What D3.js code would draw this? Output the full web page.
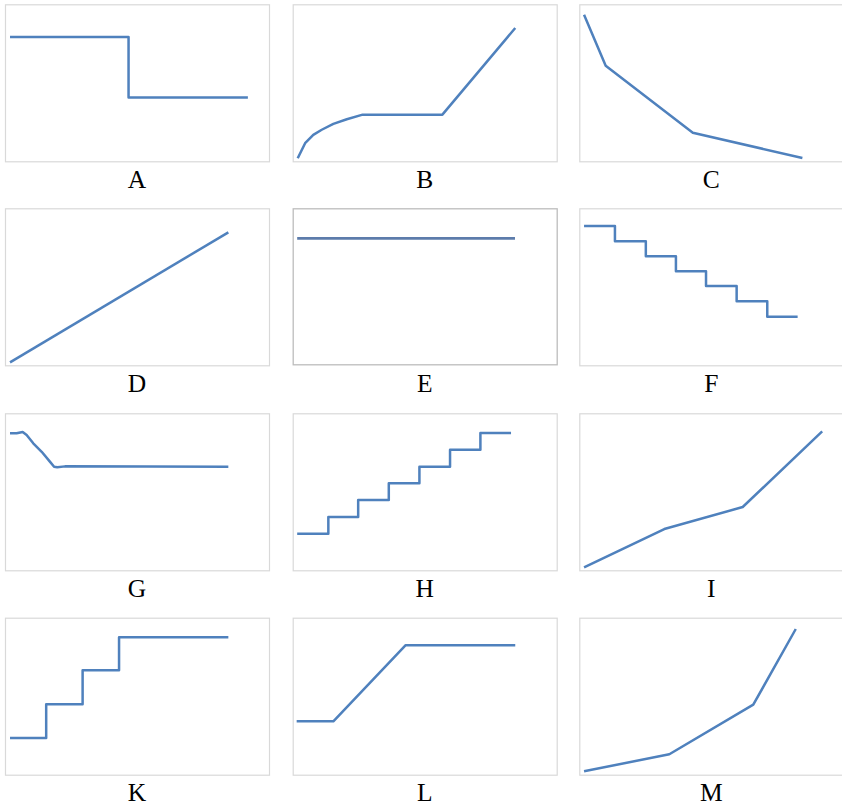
<!DOCTYPE html>
<html>
<head>
<meta charset="utf-8">
<script src="https://cdn.jsdelivr.net/npm/d3@7"></script>
<style>
  html, body { margin: 0; padding: 0; background: #fff; }
  svg { display: block; }
</style>
</head>
<body>
<svg id="chart" width="842" height="807"></svg>
<script>
// Panel labels (reading order)
const panelLabels = ["A", "B", "C", "D", "E", "F", "G", "H", "I", "K", "L", "M"];

// Series values, normalized 0..100 on both axes within each panel
const aX = [1.9, 46.8, 92.0];
const aY = [79.2, 40.6, 40.6];
const bX = [1.9, 4.7, 7.8, 11.0, 15.4, 20.5, 26.5, 56.7, 84.3];
const bY = [1.9, 11.5, 16.8, 20.1, 23.8, 26.8, 29.7, 29.7, 84.9];
const cX = [1.8, 10.0, 43.0, 84.5];
const cY = [93.4, 60.9, 18.2, 2.1];
const dX = [1.9, 84.6];
const dY = [1.9, 84.7];
const eX = [1.7, 84.2];
const eY = [80.9, 80.9];
const fX = [1.8, 13.5, 25.2, 36.6, 48.0, 59.6, 71.2, 82.7];
const fY = [88.7, 79.0, 69.4, 59.9, 50.5, 40.8, 31.0, 31.0];
const gX = [1.9, 4.4, 6.7, 8.2, 10.7, 13.9, 17.0, 18.6, 19.8, 22.7, 84.6];
const gY = [87.3, 87.3, 88.1, 86.2, 80.9, 75.5, 69.2, 66.0, 65.6, 66.2, 66.0];
const hX = [1.7, 13.5, 24.8, 36.4, 48.0, 59.6, 71.1, 82.7];
const hY = [23.3, 33.9, 44.8, 55.4, 66.0, 76.8, 87.5, 87.5];
const iX = [1.8, 32.2, 61.9, 92.0];
const iY = [1.9, 26.3, 40.3, 88.5];
const kX = [1.9, 15.6, 29.4, 43.2, 84.6];
const kY = [23.4, 44.8, 66.5, 87.5, 87.5];
const lX = [1.5, 15.4, 42.8, 84.3];
const lY = [34.0, 34.0, 82.5, 82.5];
const mX = [1.8, 34.1, 65.9, 82.0];
const mY = [2.2, 13.0, 44.6, 92.8];

const seriesX = [aX, bX, cX, dX, eX, fX, gX, hX, iX, kX, lX, mX];
const seriesY = [aY, bY, cY, dY, eY, fY, gY, hY, iY, kY, lY, mY];
const stepped = ["A", "F", "H", "K"];

// Layout
const colX = [5, 292.7, 579.3];
const rowY = [4.3, 208.3, 413.3, 617.7];
const boxW = 264, boxH = 157;

const svg = d3.select("#chart");

panelLabels.forEach((lab, idx) => {
  const col = idx % 3, row = Math.floor(idx / 3);
  const x0 = colX[col], y0 = rowY[row];
  const isE = lab === "E";
  const g = svg.append("g").attr("transform", `translate(${x0},${y0})`);

  const x = d3.scaleLinear().domain([0, 100]).range([0, boxW]);
  const y = d3.scaleLinear().domain([0, 100]).range([boxH, 0]);

  g.append("rect")
    .attr("x", 0.5).attr("y", 0.5)
    .attr("width", boxW).attr("height", isE ? boxH - 1 : boxH)
    .attr("fill", "#fff")
    .attr("stroke", isE ? "#bdbdbd" : "#d9d9d9")
    .attr("stroke-width", isE ? 1.3 : 1.2);

  const pts = seriesX[idx].map((v, i) => [v, seriesY[idx][i]]);
  const line = d3.line()
    .x(d => x(d[0])).y(d => y(d[1]))
    .curve(stepped.includes(lab) ? d3.curveStepAfter : d3.curveLinear);

  g.append("path")
    .datum(pts)
    .attr("d", line)
    .attr("fill", "none")
    .attr("stroke", isE ? "#5d7cab" : "#4f81bd")
    .attr("stroke-width", isE ? 2.8 : 2.5)
    .attr("stroke-linejoin", "round")
    .attr("stroke-linecap", "butt");

  svg.append("text")
    .attr("x", x0 + boxW / 2)
    .attr("y", y0 + boxH + 26.5)
    .attr("text-anchor", "middle")
    .attr("font-family", "'Liberation Serif', 'Times New Roman', serif")
    .attr("font-size", 25.5)
    .attr("fill", "#000")
    .text(lab);
});
</script>
</body>
</html>
